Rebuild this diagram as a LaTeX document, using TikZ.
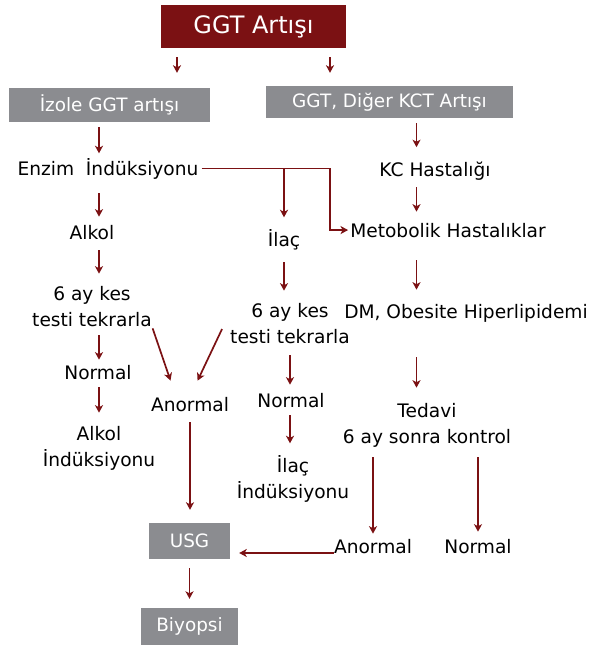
\documentclass[tikz,border=0pt]{standalone}
\usepackage{fontspec}
\setmainfont{DejaVu Sans}
\usetikzlibrary{arrows.meta,positioning,calc}
\definecolor{wine}{RGB}{123,17,19}
\definecolor{ash}{RGB}{139,140,144}

\begin{document}
\begin{tikzpicture}[x=1pt,y=-1pt,
  txt/.style={font=\fontsize{18.6}{26}\selectfont,inner sep=0pt,align=center,anchor=base},
  greybox/.style={fill=ash,text=white,font=\fontsize{18.4}{22}\selectfont,inner sep=0pt},
  arr/.style={-{Stealth[length=7.5pt,width=8pt,inset=2pt]},wine,line width=1.7pt}]
  \useasboundingbox (0,0) rectangle (592,648);
  % boxes
  \node[fill=wine,text=white,font=\fontsize{24}{28}\selectfont,inner sep=0pt,
    minimum width=185pt,minimum height=43pt] (title) at (253.5,26.5) {GGT Artışı};
  \node[greybox,minimum width=201pt,minimum height=34pt] (izole) at (109.5,105) {İzole GGT artışı};
  \node[greybox,minimum width=247pt,minimum height=32pt] (diger) at (389.5,102) {GGT, Diğer KCT Artışı};
  \node[greybox,minimum width=81pt,minimum height=36pt] (usg) at (189.5,541) {USG};
  \node[greybox,minimum width=97pt,minimum height=37pt] (biyopsi) at (189.5,626.5) {Biyopsi};
  % texts (base = last line)
  \node[txt] (enzim) at (108,175) {Enzim\ \ İndüksiyonu};
  \node[txt] (kc) at (435,176) {KC Hastalığı};
  \node[txt] (metabolik) at (448,237) {Metobolik Hastalıklar};
  \node[txt] (alkol) at (92,239) {Alkol};
  \node[txt] (ilac) at (284,246) {İlaç};
  \node[txt] (tekrarA) at (92,326) {6 ay kes\\testi tekrarla};
  \node[txt] (tekrarB) at (290,343) {6 ay kes\\testi tekrarla};
  \node[txt] (dm) at (466,318) {DM, Obesite Hiperlipidemi};
  \node[txt] (normalA) at (98,379) {Normal};
  \node[txt] (anormalA) at (190,411) {Anormal};
  \node[txt] (alkolind) at (99,466) {Alkol\\İndüksiyonu};
  \node[txt] (normalB) at (291,407) {Normal};
  \node[txt] (ilacind) at (293,498) {İlaç\\İndüksiyonu};
  \node[txt] (tedavi) at (427,443) {Tedavi\\6 ay sonra kontrol};
  \node[txt] (anormalB) at (373,553) {Anormal};
  \node[txt] (normalC) at (478,553) {Normal};
  % columns
  \coordinate (tA) at (177,0);
  \coordinate (tB) at (330,0);
  \coordinate (colA) at (99,0);
  \coordinate (colB) at (290,0);
  \coordinate (colC) at (416.5,0);
  % straight arrows
  \foreach \a/\b/\c/\s/\e in {
    title/izole/tA/9/15, title/diger/tB/9/13,
    izole/enzim/colA/5/4.5, enzim/alkol/colA/14/8, alkol/tekrarA/colA/11/12,
    tekrarA/normalA/colA/9/5, normalA/alkolind/colA/8/13,
    ilac/tekrarB/ilac/12.5/12, tekrarB/normalB/colB/12/8, normalB/ilacind/colB/8/11.5,
    diger/kc/colC/5/14, kc/metabolik/colC/7/11, metabolik/dm/colC/23/14, dm/tedavi/colC/35/15,
    tedavi/anormalB/anormalB/10/5, tedavi/normalC/normalC/10/7,
    anormalA/usg/anormalA/11/13, usg/biyopsi/usg/9/9
  } {
    \draw[arr,shorten <=\s pt,shorten >=\e pt] (\a.south -| \c) -- (\b.north -| \c);
  }
  \draw[arr,shorten <=3pt,shorten >=2pt] (enzim.east) -| ([xshift=-20pt]metabolik.west) -- (metabolik.west);
  \draw[arr,shorten >=11.5pt] (enzim.east -| ilac.north) -- (ilac.north);
  \draw[arr,shorten <=2pt,shorten >=17pt] (tekrarA.south east) -- ([xshift=-14pt]anormalA.north);
  \draw[arr,shorten >=17.7pt] ([xshift=-8pt,yshift=-6pt]tekrarB.west) -- (anormalA.north);
  \draw[arr,shorten >=9pt] (anormalB.base west) -- (anormalB.base west -| usg.east);
\end{tikzpicture}
\end{document}
